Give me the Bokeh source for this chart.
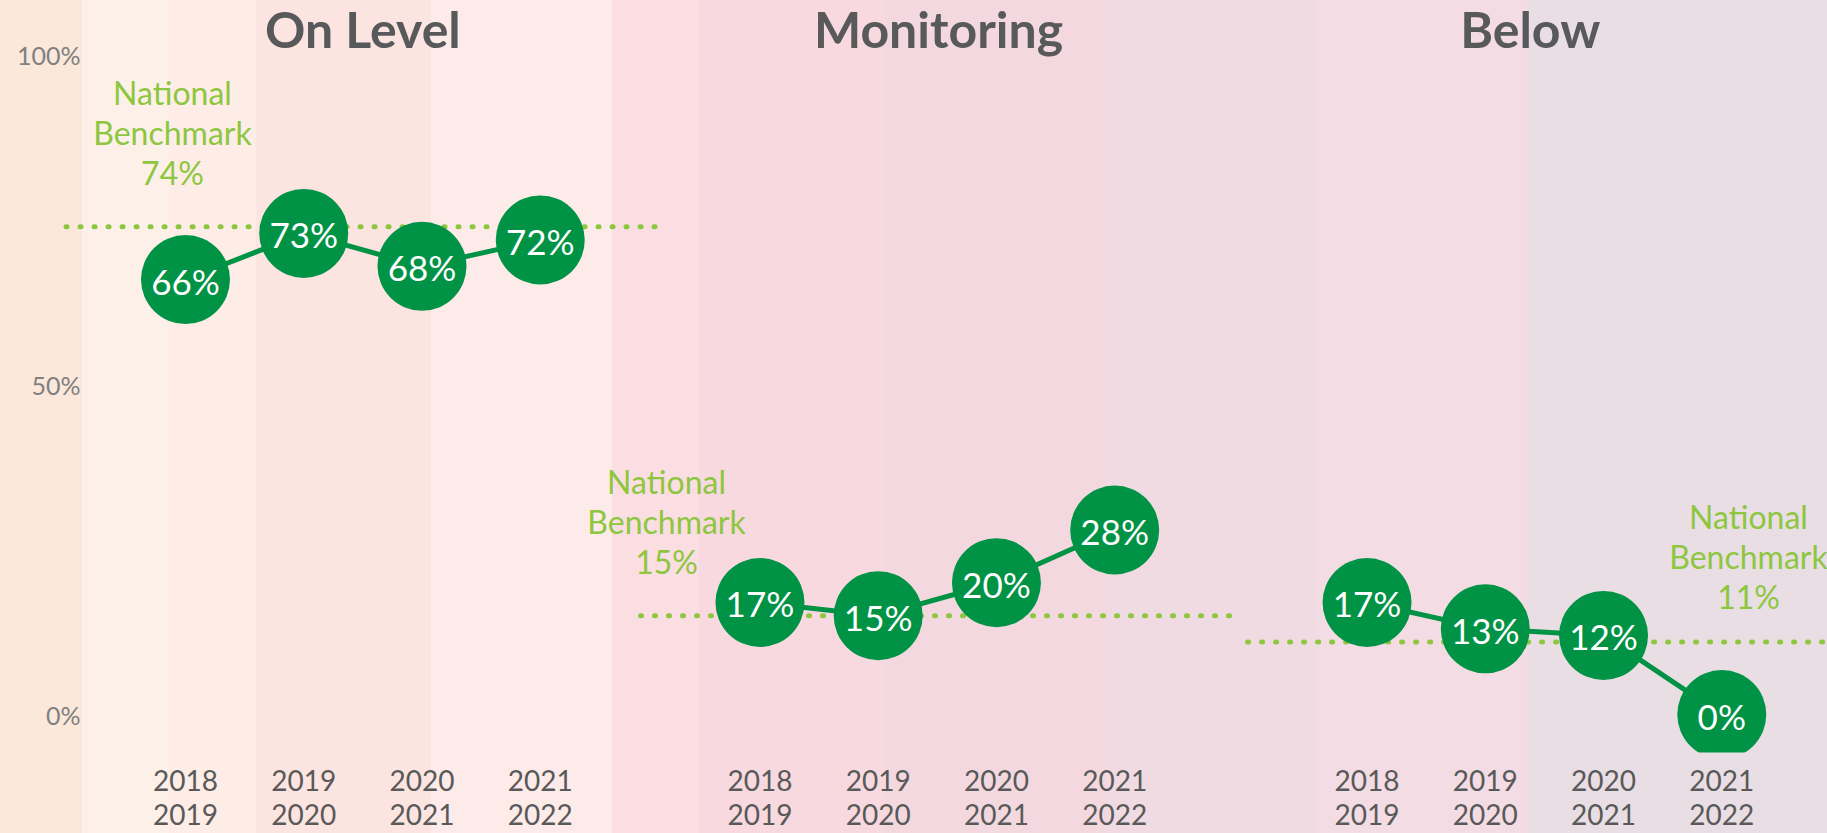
from bokeh.plotting import figure
from bokeh.models import Range1d, FixedTicker, ColumnDataSource
from bokeh.core.properties import value
from bokeh.embed import file_html
from bokeh.resources import INLINE

# ---------------- data ----------------
groups = ["On Level", "Monitoring", "Below"]
years = ["2018\n2019", "2019\n2020", "2020\n2021", "2021\n2022"]
on_level = [66, 73, 68, 72]
monitoring = [17, 15, 20, 28]
below = [17, 13, 12, 0]
benchmarks = [74, 15, 11]
y_ticks = [0, 50, 100]

series = [on_level, monitoring, below]

# ---------------- layout (positions / styles) ----------------
group_offset = [0.0, 4.858, 9.992]         # x start of each panel (slot units)
bench_span = (-1.01, 4.0)                  # benchmark line extent relative to group start
bench_label_dx = [-0.11, -0.79, 3.226]     # benchmark label x relative to group start
bench_label_dy = [0, 0, 8]                 # extra px shift of benchmark label
title_dx = [1.5, 1.51, 1.38]

GREEN = "#009245"
LIME = "#8DC63F"
GREY_T = "#58595B"
FONT = "Lato"

bands = [  # (start px, end px, colour) relative to figure
    (0, 82, "#FCE8DB"), (82, 169, "#FDF0E8"), (169, 256, "#FDEDE6"),
    (256, 431, "#FCE5E0"), (431, 612, "#FDEBEA"), (612, 699, "#FBDEE1"),
    (699, 886, "#F7D9DF"), (886, 1107, "#F3D9DF"), (1107, 1317, "#EFDBE1"),
    (1317, 1527, "#F3DCE4"), (1527, 1827, "#EADEE5"),
]
stops = []
for a, b, c in bands:
    stops.append(f"{c} {a}px")
    stops.append(f"{c} {b}px")
gradient = "linear-gradient(90deg, " + ", ".join(stops) + ")"

W, H = 1827, 833
p = figure(width=W, height=H, output_backend="svg", toolbar_location=None,
           x_range=Range1d(-1.2262, 13.886), y_range=Range1d(-5.758, 108.333),
           min_border_left=40, min_border_right=0, min_border_top=0,
           min_border_bottom=80)
p.background_fill_color = None
p.border_fill_color = None
p.outline_line_color = None
p.grid.visible = False
p.styles = {"background-image": gradient}

# ---------------- axes ----------------
xt = []
xlab = {}
for g in range(3):
    for i, yl in enumerate(years):
        xv = group_offset[g] + i
        xt.append(xv)
        xlab[xv] = yl
p.xaxis.ticker = FixedTicker(ticks=xt)
p.xaxis.major_label_overrides = xlab
p.xaxis.major_label_text_font = FONT
p.xaxis.major_label_text_font_size = "28px"
p.xaxis.major_label_text_color = "#595959"
p.xaxis.major_label_text_line_height = 1.0
p.xaxis.major_label_standoff = 4
p.xaxis.axis_line_color = None
p.xaxis.major_tick_line_color = None
p.xaxis.minor_tick_line_color = None

p.yaxis.ticker = FixedTicker(ticks=y_ticks)
p.yaxis.major_label_overrides = {t: f"{t}%" for t in y_ticks}
p.yaxis.major_label_text_font = FONT
p.yaxis.major_label_text_font_size = "25px"
p.yaxis.major_label_text_color = "#808080"
p.yaxis.major_label_standoff = -46
p.yaxis.axis_line_color = None
p.yaxis.major_tick_line_color = None
p.yaxis.minor_tick_line_color = None

# ---------------- benchmarks ----------------
bx0 = [group_offset[g] + bench_span[0] for g in range(3)]
bx1 = [group_offset[g] + bench_span[1] for g in range(3)]
p.segment(x0=bx0, y0=benchmarks, x1=bx1, y1=benchmarks, line_color=LIME,
          line_width=5, line_dash="1 13", line_cap="round")

blx = [group_offset[g] + bench_label_dx[g] for g in range(3)]
for txt_fn, off in [(lambda g: "National", -134), (lambda g: "Benchmark", -94),
                    (lambda g: f"{benchmarks[g]}%", -54)]:
    src = ColumnDataSource(dict(x=blx, y=benchmarks,
                                t=[txt_fn(g) for g in range(3)],
                                dy=[off + bench_label_dy[g] for g in range(3)]))
    p.text(x="x", y="y", text="t", y_offset="dy", source=src,
           text_font=value(FONT), text_font_size="32px", text_color=LIME,
           text_align="center", text_baseline="middle")

# ---------------- titles ----------------
tsrc = ColumnDataSource(dict(x=[group_offset[g] + title_dx[g] for g in range(3)],
                             y=[100] * 3, t=groups))
p.text(x="x", y="y", text="t", source=tsrc, y_offset=-26,
       text_font=value(FONT), text_font_size="50px", text_font_style="bold",
       text_color=GREY_T, text_align="center", text_baseline="middle")

# ---------------- series ----------------
for g, vals in enumerate(series):
    xs = [group_offset[g] + i for i in range(len(vals))]
    src = ColumnDataSource(dict(x=xs, y=vals, t=[f"{v}%" for v in vals]))
    p.line(x="x", y="y", source=src, line_color=GREEN, line_width=5)
    p.scatter(x="x", y="y", source=src, size=89, fill_color=GREEN, line_color=None)
    p.text(x="x", y="y", text="t", source=src, y_offset=1,
           text_font=value(FONT), text_font_size="35px", text_color="white",
           text_align="center", text_baseline="middle")

open("out.html", "w").write(file_html(p, INLINE))
